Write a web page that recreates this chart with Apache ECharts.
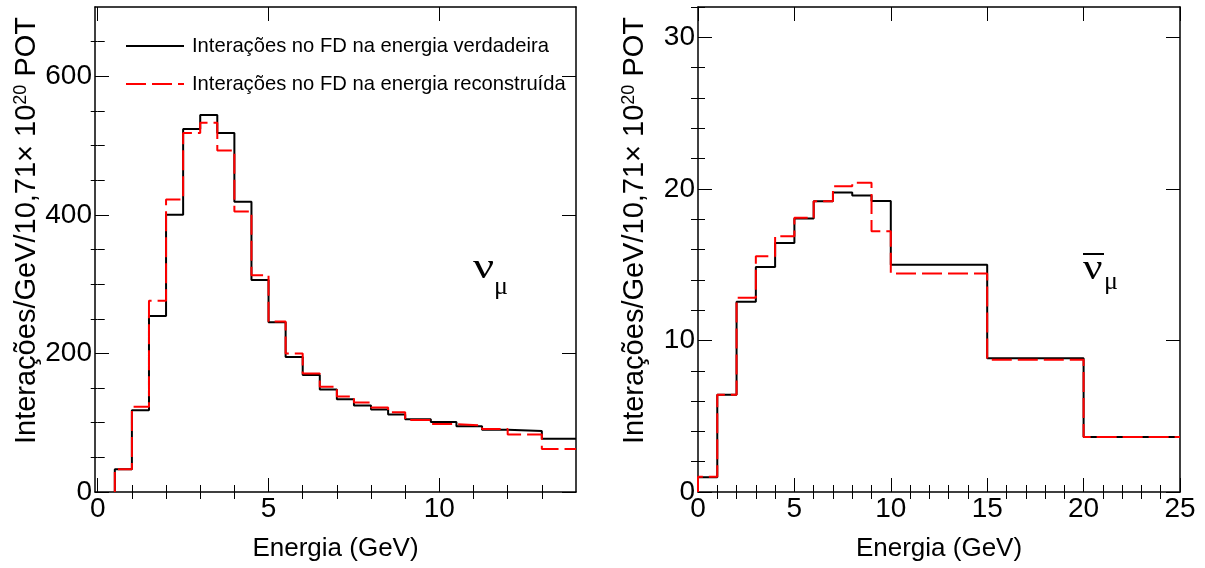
<!DOCTYPE html>
<html>
<head>
<meta charset="utf-8">
<script src="https://cdn.jsdelivr.net/npm/echarts@6/dist/echarts.min.js"></script>
<style>
html,body{margin:0;padding:0;background:#fff;}
#chart{width:1205px;height:568px;}
</style>
</head>
<body>
<div id="chart"></div>
<script>
// ---------- data ----------
const nameTrue = 'Interações no FD na energia verdadeira';
const nameReco = 'Interações no FD na energia reconstruída';

// nu_mu (left panel)
const leftEdges = [0.5,1,1.5,2,2.5,3,3.5,4,4.5,5,5.5,6,6.5,7,7.5,8,8.5,9,9.75,10.5,11.25,12,13,14];
const leftTrue  = [33,118,254,400,524,544,518,419,306,245,195,169,148,134,125,119,112,105,101,95,90,88,77];
const leftReco  = [33,123,276,422,518,533,493,405,313,246,200,171,152,138,129,122,115,104,98,96,91,83,62];

// anti nu_mu (right panel)
const rightEdges = [0,1,2,3,4,5,6,7,8,9,10,15,20,25];
const rightTrue  = [0.97,6.41,12.56,14.85,16.43,18.04,19.19,19.76,19.56,19.2,15.0,8.83,3.63];
const rightReco  = [1.0,6.41,12.82,15.55,16.87,18.1,19.19,20.18,20.4,17.2,14.41,8.72,3.63];

// ticks
const leftXMajor = [0,5,10];
const leftXMinor = [1,2,3,4,6,7,8,9,11,12,13];
const leftYMajor = [0,200,400,600];
const leftYMinor = [50,100,150,250,300,350,450,500,550,650];
const rightXMajor = [0,5,10,15,20,25];
const rightXMinor = [1,2,3,4,6,7,8,9,11,12,13,14,16,17,18,19,21,22,23,24];
const rightYMajor = [0,10,20,30];
const rightYMinor = [2,4,6,8,12,14,16,18,22,24,26,28,32];

const xTitle = 'Energia (GeV)';
const yTitle = 'Interações/GeV/10,71× 10{sup|20} POT';

// ---------- helpers ----------
const FONT = 'Liberation Sans';
function steps(edges, vals) {
  const pts = [[edges[0], 0]];
  for (let i = 0; i < vals.length; i++) pts.push([edges[i], vals[i]]);
  pts.push([edges[edges.length - 1], vals[vals.length - 1]]);
  return pts;
}
function axisSet(kind, g, min, max, major, minor, title, posA, posB, gap) {
  const base = {type:'value', gridIndex:g, min:min, max:max, splitLine:{show:false}, axisPointer:{show:false}};
  const lineOn = {show:true, onZero:false, lineStyle:{color:'#000', width:1.5}};
  const lineOff = {show:false};
  const lbl = {show:true, customValues:major, fontSize:28, fontFamily:FONT, color:'#000', margin:3};
  const list = [
    Object.assign({}, base, {position:posA, axisLine:lineOn,
      axisTick:{show:true, inside:true, length:14, customValues:major, lineStyle:{color:'#000', width:1}},
      axisLabel:lbl,
      name:title, nameLocation:'middle', nameGap:gap,
      nameTextStyle:{fontSize: kind==='y' ? 29 : 26, fontFamily:FONT, color:'#000',
        padding: kind==='y' ? [0,0,0,38] : 0,
        rich:{sup:{fontSize:18, fontFamily:FONT, color:'#000', verticalAlign:'top'}}}}),
    Object.assign({}, base, {position:posA, axisLine:lineOff,
      axisTick:{show:true, inside:true, length:7, customValues:minor, lineStyle:{color:'#000', width:1}},
      axisLabel:{show:false}}),
    Object.assign({}, base, {position:posB, axisLine:lineOn,
      axisTick:{show:true, inside:true, length:14, customValues:major, lineStyle:{color:'#000', width:1}},
      axisLabel:{show:false}}),
    Object.assign({}, base, {position:posB, axisLine:lineOff,
      axisTick:{show:true, inside:true, length:7, customValues:minor, lineStyle:{color:'#000', width:1}},
      axisLabel:{show:false}})
  ];
  return list;
}

const xAxes = [].concat(
  axisSet('x', 0, -0.08, 14, leftXMajor, leftXMinor, xTitle, 'bottom', 'top', 44),
  axisSet('x', 1, 0, 25, rightXMajor, rightXMinor, xTitle, 'bottom', 'top', 44)
);
const yAxes = [].concat(
  axisSet('y', 0, 0, 700, leftYMajor, leftYMinor, yTitle, 'left', 'right', 49),
  axisSet('y', 1, 0, 32, rightYMajor, rightYMinor, yTitle, 'left', 'right', 49)
);

function histSeries(name, xi, yi, pts, color, dashed) {
  return {
    name:name, type:'line', xAxisIndex:xi, yAxisIndex:yi, data:pts, step:'end',
    symbol:'none', showSymbol:false, clip:true, silent:true,
    lineStyle:{color:color, width:2, type: dashed ? [20,6] : 'solid'},
    itemStyle:{color:color}, z: dashed ? 3 : 2
  };
}

const option = {
  animation:false,
  backgroundColor:'#fff',
  grid:[
    {left:95, top:7, width:481, height:485},
    {left:698, top:7, width:482, height:485}
  ],
  xAxis:xAxes,
  yAxis:yAxes,
  legend:{
    data:[nameTrue, nameReco], orient:'vertical', left:120, top:31,
    itemWidth:58, itemHeight:20, itemGap:18, selectedMode:false,
    itemStyle:{opacity:0},
    textStyle:{fontSize:20.2, fontFamily:FONT, color:'#000', padding:[0,0,0,3]}
  },
  series:[
    histSeries(nameTrue, 0, 0, steps(leftEdges, leftTrue), '#000', false),
    histSeries(nameReco, 0, 0, steps(leftEdges, leftReco), '#ff0000', true),
    histSeries(nameTrue, 4, 4, steps(rightEdges, rightTrue), '#000', false),
    histSeries(nameReco, 4, 4, steps(rightEdges, rightReco), '#ff0000', true)
  ],
  graphic:[
    {type:'text', x:473, y:269, scaleX:1.3, style:{text:'ν', font:'36px "Liberation Serif"', fill:'#000', textAlign:'left', textVerticalAlign:'middle'}},
    {type:'text', x:494, y:287, style:{text:'μ', font:'26px "Liberation Serif"', fill:'#000', textAlign:'left', textVerticalAlign:'middle'}},
    {type:'text', x:1083, y:270, scaleX:1.2, style:{text:'ν', font:'36px "Liberation Serif"', fill:'#000', textAlign:'left', textVerticalAlign:'middle'}},
    {type:'line', shape:{x1:1083, y1:254, x2:1104, y2:254}, style:{stroke:'#000', lineWidth:2}},
    {type:'text', x:1104, y:282, style:{text:'μ', font:'26px "Liberation Serif"', fill:'#000', textAlign:'left', textVerticalAlign:'middle'}}
  ]
};

const chart = echarts.init(document.getElementById('chart'), null, {renderer:'canvas'});
chart.setOption(option);
</script>
</body>
</html>
